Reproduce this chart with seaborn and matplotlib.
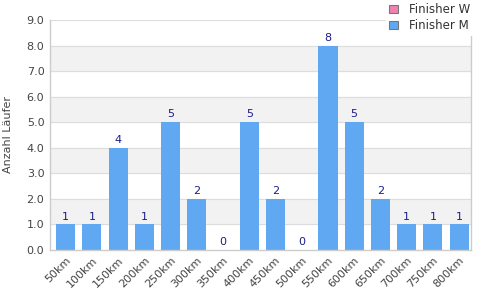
import pandas as pd
import seaborn as sns
import matplotlib.pyplot as plt
from matplotlib.patches import Patch

distances = ["50km", "100km", "150km", "200km", "250km", "300km", "350km", "400km",
             "450km", "500km", "550km", "600km", "650km", "700km", "750km", "800km"]
finisher_m = [1, 1, 4, 1, 5, 2, 0, 5, 2, 0, 8, 5, 2, 1, 1, 1]
finisher_w = [0, 0, 0, 0, 0, 0, 0, 0, 0, 0, 0, 0, 0, 0, 0, 0]

df = pd.DataFrame({
    "Distanz": distances * 2,
    "Anzahl": finisher_w + finisher_m,
    "Gruppe": ["Finisher W"] * len(distances) + ["Finisher M"] * len(distances),
})

sns.set_style("white")
plt.rcParams["font.family"] = ["DejaVu Sans"]

fig = plt.figure(figsize=(4.8, 3.0), dpi=100)
ax = fig.add_axes([0.104, 0.167, 0.877, 0.766])

pink = "#ee82b4"
blue = "#60a8f2"
sns.barplot(data=df, x="Distanz", y="Anzahl", hue="Gruppe", dodge=False,
            palette={"Finisher W": pink, "Finisher M": blue}, width=0.73,
            ax=ax, legend=False, saturation=1, linewidth=0, edgecolor="none")

# value labels on the men's bars
for cont in ax.containers:
    vals = [p.get_height() for p in cont]
    if sum(vals) > 0:
        ax.bar_label(cont, fmt="%d", padding=2, color="#1c1c8a", fontsize=8)

ax.set_ylim(0, 9)
ax.set_xlim(-0.6, 15.45)
ax.set_yticks(range(10))
ax.set_yticklabels([f"{v:.1f}" for v in range(10)], fontsize=8, color="#444444")
ax.set_xticks(range(len(distances)))
ax.set_xticklabels(distances, rotation=45, ha="right", rotation_mode="anchor",
                   fontsize=8, color="#444444")
ax.tick_params(axis="both", length=0, pad=4)

# alternating bands and grid lines
for lo in [1, 3, 5, 7]:
    ax.axhspan(lo, lo + 1, color="#f2f2f2", zorder=0)
for y in range(1, 10):
    ax.axhline(y, color="#dddddd", linewidth=0.8, zorder=0.5)

for side in ["left", "right", "bottom"]:
    ax.spines[side].set_color("#cccccc")
    ax.spines[side].set_linewidth(1)
ax.spines["top"].set_visible(False)

ax.set_xlabel("")
ax.set_ylabel("Anzahl Läufer", fontsize=8, color="#444444", labelpad=10)

handles = [Patch(facecolor=pink, edgecolor="#777777", linewidth=0.8),
           Patch(facecolor=blue, edgecolor="#777777", linewidth=0.8)]
fig.legend(handles, ["Finisher W", "Finisher M"], loc="upper right",
           bbox_to_anchor=(1.0, 1.02), frameon=True, facecolor="white",
           edgecolor="none", framealpha=1, fontsize=8.5,
           handlelength=0.7, handleheight=0.7, handletextpad=1.0,
           labelspacing=0.25, borderpad=0.3, labelcolor="#333333")

fig.savefig("out.png", dpi=100)
